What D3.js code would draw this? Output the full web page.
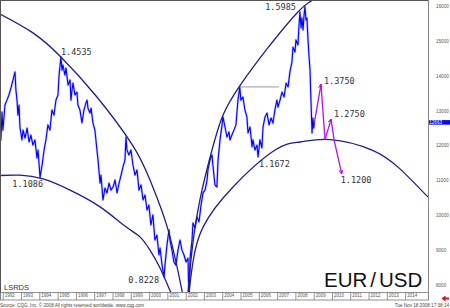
<!DOCTYPE html>
<html>
<head>
<meta charset="utf-8" />
<title>EUR/USD arcs</title>
<style>
  body { margin: 0; background: #fff; }
  svg { display: block; font-family: "Liberation Sans", Arial, sans-serif; }
  .pivot { font-family: "DejaVu Sans Mono", monospace; font-size: 8.5px; fill: #333; }
  .yaxis text { font-size: 4.6px; fill: #555; }
  .xaxis text { font-size: 4.5px; fill: #555; }
</style>
<script src="https://d3js.org/d3.v7.min.js"></script>
</head>
<body>
<script>
// EUR/USD (synthetic before 1999): [decimal year, rate]
const eurusd = [
  [1991.85, 1.259], [1991.90, 1.216], [1991.96, 1.296], [1992.01, 1.244], [1992.12, 1.316],
  [1992.23, 1.330], [1992.34, 1.345], [1992.45, 1.365], [1992.56, 1.388], [1992.67, 1.411],
  [1992.72, 1.359], [1992.78, 1.330], [1992.83, 1.287], [1992.89, 1.316], [1992.94, 1.253],
  [1993.05, 1.216], [1993.11, 1.244], [1993.22, 1.221], [1993.33, 1.250], [1993.44, 1.210],
  [1993.54, 1.230], [1993.65, 1.201], [1993.76, 1.216], [1993.87, 1.164], [1993.93, 1.187],
  [1994.04, 1.1086], [1994.15, 1.144], [1994.26, 1.187], [1994.36, 1.216], [1994.47, 1.259],
  [1994.58, 1.244], [1994.69, 1.302], [1994.80, 1.287], [1994.91, 1.330], [1995.02, 1.345],
  [1995.08, 1.402], [1995.18, 1.4535], [1995.24, 1.416], [1995.29, 1.431], [1995.40, 1.402],
  [1995.46, 1.422], [1995.57, 1.373], [1995.68, 1.388], [1995.73, 1.330], [1995.79, 1.359],
  [1995.84, 1.379], [1995.95, 1.345], [1996.06, 1.353], [1996.11, 1.316], [1996.22, 1.302],
  [1996.33, 1.265], [1996.44, 1.302], [1996.55, 1.322], [1996.61, 1.330], [1996.66, 1.307],
  [1996.77, 1.293], [1996.83, 1.307], [1996.93, 1.265], [1997.04, 1.244], [1997.15, 1.187],
  [1997.21, 1.158], [1997.32, 1.092], [1997.37, 1.115], [1997.48, 1.044], [1997.59, 1.078],
  [1997.70, 1.064], [1997.81, 1.092], [1997.92, 1.072], [1998.03, 1.081], [1998.14, 1.101],
  [1998.25, 1.064], [1998.36, 1.092], [1998.47, 1.115], [1998.57, 1.138], [1998.68, 1.158],
  [1998.74, 1.224], [1998.79, 1.187], [1998.90, 1.173], [1999.01, 1.187], [1999.12, 1.144],
  [1999.23, 1.115], [1999.34, 1.130], [1999.45, 1.072], [1999.56, 1.087], [1999.67, 1.044],
  [1999.78, 1.058], [1999.89, 1.015], [1999.99, 1.029], [2000.10, 0.972], [2000.21, 1.001],
  [2000.32, 0.929], [2000.43, 0.943], [2000.54, 0.886], [2000.60, 0.906], [2000.71, 0.857],
  [2000.82, 0.8228], [2000.87, 0.857], [2000.98, 0.915], [2001.09, 0.958], [2001.14, 0.929],
  [2001.25, 0.900], [2001.36, 0.866], [2001.47, 0.857], [2001.58, 0.900], [2001.69, 0.929],
  [2001.80, 0.900], [2001.91, 0.886], [2002.02, 0.866], [2002.13, 0.877], [2002.18, 0.750],
  [2002.24, 0.877], [2002.35, 0.929], [2002.40, 0.978], [2002.51, 0.964], [2002.62, 0.995],
  [2002.73, 0.981], [2002.84, 1.029], [2002.95, 1.064], [2003.06, 1.072], [2003.17, 1.101],
  [2003.22, 1.130], [2003.33, 1.158], [2003.44, 1.173], [2003.49, 1.144], [2003.60, 1.087],
  [2003.71, 1.081], [2003.77, 1.158], [2003.88, 1.216], [2003.99, 1.259], [2004.04, 1.282],
  [2004.15, 1.253], [2004.26, 1.224], [2004.37, 1.239], [2004.42, 1.216], [2004.53, 1.230],
  [2004.64, 1.244], [2004.75, 1.259], [2004.86, 1.330], [2004.96, 1.3667], [2005.02, 1.330],
  [2005.13, 1.339], [2005.24, 1.302], [2005.35, 1.282], [2005.41, 1.236], [2005.52, 1.253],
  [2005.63, 1.196], [2005.68, 1.216], [2005.79, 1.187], [2005.90, 1.201], [2005.96, 1.1672],
  [2006.06, 1.216], [2006.17, 1.193], [2006.23, 1.253], [2006.34, 1.282], [2006.45, 1.293],
  [2006.56, 1.259], [2006.67, 1.279], [2006.77, 1.264], [2006.88, 1.302], [2006.99, 1.330],
  [2007.05, 1.310], [2007.16, 1.330], [2007.27, 1.353], [2007.38, 1.339], [2007.49, 1.379],
  [2007.60, 1.368], [2007.70, 1.411], [2007.81, 1.439], [2007.87, 1.482], [2007.98, 1.468],
  [2008.03, 1.503], [2008.14, 1.488], [2008.20, 1.546], [2008.25, 1.583], [2008.31, 1.537],
  [2008.36, 1.566], [2008.42, 1.531], [2008.47, 1.571], [2008.52, 1.5985], [2008.58, 1.560],
  [2008.63, 1.566], [2008.69, 1.503], [2008.74, 1.460], [2008.80, 1.416], [2008.85, 1.330],
  [2008.91, 1.236], [2008.96, 1.279], [2009.00, 1.250], [2009.04, 1.2663]
];

// hand-drawn arcs, points
const arcA = [[1991.85, 1.577], [1993.65, 1.523], [1995.18, 1.454], [1997.15, 1.339],
  [1999.12, 1.199], [2000.05, 1.101], [2001.04, 0.958], [2001.86, 0.768]];
const arcB = [[1991.85, 1.114], [1992.94, 1.115], [1994.20, 1.104], [1995.68, 1.072],
  [1997.32, 1.024], [1998.68, 0.969], [1999.50, 0.938], [2000.05, 0.900], [2000.60, 0.849],
  [2001.20, 0.777]];
const arcC = [[2002.13, 0.777], [2002.35, 0.900], [2002.78, 1.044], [2003.44, 1.187],
  [2004.04, 1.287], [2004.96, 1.371], [2006.45, 1.477], [2008.14, 1.583], [2008.96, 1.617]];
const arcD = [[2002.18, 0.777], [2002.40, 0.866], [2002.95, 0.966], [2004.59, 1.081],
  [2006.89, 1.187], [2008.25, 1.210], [2009.89, 1.217], [2012.19, 1.187], [2013.72, 1.133],
  [2015.25, 1.052]];

// projected path (purple), legs between pivots
const projection = [[2009.04, 1.2663], [2009.40, 1.375], [2009.62, 1.217], [2009.95, 1.275],
  [2010.12, 1.215], [2010.53, 1.120]];

const resistance = [[2004.96, 1.368], [2007.10, 1.368]];

const pivotYears = [1994.04, 1995.18, 2000.82, 2005.96, 2008.52, 2009.40, 2009.95, 2010.53];
const pivotPrices = [1.1086, 1.4535, 0.8228, 1.1672, 1.5985, 1.3750, 1.2750, 1.1200];

const yearTicks = d3.range(1992, 2015);
const priceTicks = [0.8, 0.9, 1.0, 1.1, 1.2, 1.3, 1.4, 1.5, 1.6];
const lastPrice = 1.2663;

const W = 450, H = 308;
const plotRight = 428, plotTop = 1, plotBottom = 292;

const x = d3.scaleLinear().domain([1991.85, 2015.25]).range([0, plotRight]);
const y = d3.scaleLinear().domain([0.8, 1.6]).range([285, 6]);

const svg = d3.select("body").append("svg")
  .attr("width", W)
  .attr("height", H);

const defs = svg.append("defs");
defs.append("clipPath").attr("id", "plot")
  .append("rect")
  .attr("x", 0).attr("y", plotTop)
  .attr("width", plotRight).attr("height", plotBottom - plotTop);

defs.append("marker")
  .attr("id", "arrow")
  .attr("viewBox", "0 0 10 10")
  .attr("refX", 9).attr("refY", 5)
  .attr("markerWidth", 4).attr("markerHeight", 4)
  .attr("markerUnits", "userSpaceOnUse")
  .attr("orient", "auto")
  .append("path")
  .attr("d", "M0,0L10,5L0,10")
  .attr("fill", "none")
  .attr("stroke", "#b010f0")
  .attr("stroke-width", 2.5);

const plot = svg.append("g").attr("clip-path", "url(#plot)");

const line = d3.line().x(d => x(d[0])).y(d => y(d[1]));
const curve = d3.line().x(d => x(d[0])).y(d => y(d[1])).curve(d3.curveNatural);

// price line, with a pale halo for the daily noise
plot.append("path")
  .datum(eurusd)
  .attr("d", line)
  .attr("fill", "none")
  .attr("stroke", "#8a8aff")
  .attr("stroke-width", 2.4)
  .attr("stroke-linejoin", "round")
  .attr("opacity", 0.45);

plot.append("path")
  .datum(eurusd)
  .attr("d", line)
  .attr("fill", "none")
  .attr("stroke", "#0000ff")
  .attr("stroke-width", 1.1)
  .attr("stroke-linejoin", "round");

plot.append("path")
  .datum(resistance)
  .attr("d", line)
  .attr("fill", "none")
  .attr("stroke", "#999")
  .attr("stroke-width", 1);

plot.selectAll(".arc")
  .data([arcA, arcB, arcC, arcD])
  .join("path")
  .attr("class", "arc")
  .attr("d", curve)
  .attr("fill", "none")
  .attr("stroke", "#1e1e8c")
  .attr("stroke-width", 1.3);

// purple projection, arrowheads on the legs that end at a target
const legs = d3.pairs(projection);
plot.selectAll(".leg")
  .data(legs)
  .join("path")
  .attr("class", "leg")
  .attr("d", line)
  .attr("fill", "none")
  .attr("stroke", "#b010f0")
  .attr("stroke-width", 1.3)
  .attr("marker-end", (d, i) => (i === 0 || i === 2 || i === 4) ? "url(#arrow)" : null);

// pivot labels
const labelPlace = [
  { dx: 3, dy: 10, anchor: "end" },
  { dx: 0, dy: -2, anchor: "start" },
  { dx: -5, dy: 6, anchor: "end" },
  { dx: 1, dy: 10, anchor: "start" },
  { dx: -9, dy: 3.5, anchor: "end" },
  { dx: 3, dy: 0, anchor: "start" },
  { dx: 3, dy: -2, anchor: "start" },
  { dx: -1, dy: 10, anchor: "start" }
];
svg.selectAll(".pivot")
  .data(pivotPrices)
  .join("text")
  .attr("class", "pivot")
  .attr("x", (d, i) => x(pivotYears[i]) + labelPlace[i].dx)
  .attr("y", (d, i) => y(d) + labelPlace[i].dy)
  .attr("text-anchor", (d, i) => labelPlace[i].anchor)
  .text(d => d.toFixed(4));

svg.append("text")
  .attr("x", 4).attr("y", 289.5)
  .attr("font-size", 7.5)
  .attr("fill", "#333")
  .text("LSRDS");

const title = svg.append("text")
  .attr("x", 324).attr("y", 286.5)
  .attr("font-size", 20.5)
  .attr("fill", "#111");
title.append("tspan").text("EUR");
title.append("tspan").attr("dx", 3).text("/");
title.append("tspan").attr("dx", 3).text("USD");

// frame
svg.append("line")
  .attr("x1", 0).attr("x2", plotRight)
  .attr("y1", 0.5).attr("y2", 0.5)
  .attr("stroke", "#555");
svg.append("line")
  .attr("x1", 0.5).attr("x2", 0.5)
  .attr("y1", 0).attr("y2", 300)
  .attr("stroke", "#555");

// right price axis
const yAxis = svg.append("g")
  .attr("class", "yaxis")
  .attr("transform", "translate(" + plotRight + ",0)")
  .call(d3.axisRight(y).tickValues(priceTicks).tickSize(0).tickPadding(8)
    .tickFormat(d => Math.round(d * 10000)));
yAxis.select(".domain").remove();
svg.append("line")
  .attr("x1", plotRight + 0.5).attr("x2", plotRight + 0.5)
  .attr("y1", 0).attr("y2", 300)
  .attr("stroke", "#888");

// last price tag
svg.append("rect")
  .attr("x", plotRight + 1).attr("y", y(lastPrice) - 2.3)
  .attr("width", W - plotRight - 1).attr("height", 4.6)
  .attr("fill", "#0a0ae6");
svg.append("text")
  .attr("x", 442).attr("y", y(lastPrice) + 1.6)
  .attr("text-anchor", "end")
  .attr("font-size", 4.6)
  .attr("fill", "#fff")
  .text(Math.round(lastPrice * 10000));

// year strip
svg.append("rect")
  .attr("x", 0.5).attr("y", plotBottom + 0.5)
  .attr("width", plotRight).attr("height", 7.5)
  .attr("fill", "#fff")
  .attr("stroke", "#777")
  .attr("stroke-width", 0.8);

const xAxis = svg.append("g")
  .attr("class", "xaxis")
  .attr("transform", "translate(0," + (plotBottom + 8) + ")")
  .call(d3.axisBottom(x).tickValues(yearTicks).tickSize(-8).tickFormat(d3.format("d")));
xAxis.select(".domain").remove();
xAxis.selectAll("line").attr("stroke", "#777").attr("stroke-width", 0.8);
xAxis.selectAll("text")
  .attr("text-anchor", "start")
  .attr("x", 1.5)
  .attr("y", -4)
  .attr("dy", "0.32em");

// red scroll arrow
svg.append("path")
  .attr("d", "M449,297.5H445.5V295.5L441.5,298.5L445.5,301.5V299.5H449Z")
  .attr("fill", "#e01010");

svg.append("text")
  .attr("x", 0).attr("y", 307)
  .attr("font-size", 4.6)
  .attr("fill", "#444")
  .text("Source: CQG, Inc. \u00a9 2008 All rights reserved worldwide. www.cqg.com");

svg.append("text")
  .attr("x", 449).attr("y", 307)
  .attr("text-anchor", "end")
  .attr("font-size", 4.6)
  .attr("fill", "#444")
  .text("Tue Nov 18 2008 17:38:14");
</script>
</body>
</html>
